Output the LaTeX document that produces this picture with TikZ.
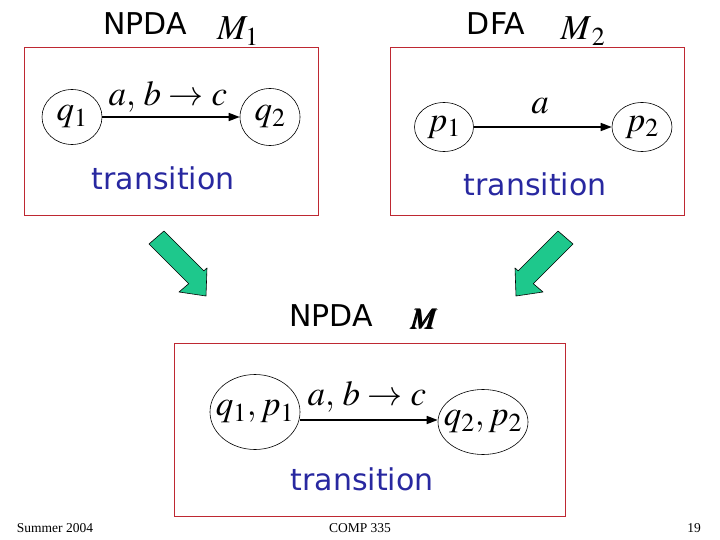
\documentclass[tikz,border=0pt]{standalone}
\usepackage{fix-cm}
\usepackage{mathptmx}
\usepackage{bm}
\usepackage{fontspec}
\setmainfont{Liberation Serif}
\newfontfamily\slidefont{DejaVu Sans}
\usetikzlibrary{shapes.geometric,arrows.meta}

\definecolor{boxred}{RGB}{190,40,50}
\definecolor{trblue}{RGB}{40,40,160}
\definecolor{arrgreen}{RGB}{30,200,140}

\tikzset{
  frame/.style={draw=boxred,line width=1pt},
  state/.style={draw,ellipse,line width=0.6pt,inner sep=0pt},
  stlabel/.style={font=\fontsize{35}{35}\selectfont},
  trans/.style={-{Triangle[length=11pt,width=8pt]},line width=1.6pt},
  title/.style={font=\slidefont\fontsize{30}{30}\selectfont,anchor=base},
  note/.style={font=\slidefont\fontsize{30}{30}\selectfont,text=trblue,anchor=base},
  foot/.style={font=\fontsize{13.5}{14}\selectfont},
  bigarrow/.style={fill=arrgreen,draw=black,line width=0.6pt,line join=round},
}

\begin{document}
\begin{tikzpicture}[x=1pt,y=-1pt]
			\useasboundingbox (0,0) rectangle (720,540);
			% NPDA M_1
			\draw[frame] (24,48) rectangle (318,216);
			\node[title] (npdaA) at (145,35) {NPDA};
			\node[stlabel,anchor=base] (mA) at (238,40) {$M_1$};
			\node[state,minimum width=60,minimum height=55] (q1) at (72,117) {};
			\node[state,minimum width=60,minimum height=57] (q2) at (270,117) {};
			\node[stlabel] at (q1) {$q_1$};
			\node[stlabel] at (q2) {$q_2$};
			\draw[trans] (q1)--(q2);
			\node[stlabel,anchor=base] (labA) at (168,106) {$a,\,b\rightarrow c$};
			\node[note] (trA) at (163,190) {transition};
			% DFA M_2
			\draw[frame] (390,48) rectangle (684,216);
			\node[title] (dfa) at (496,35) {DFA};
			\node[stlabel,anchor=base] (mB) at (583,40) {$M_{\,2}$};
			\node[state,minimum width=59,minimum height=49] (p1) at (444,127) {};
			\node[state,minimum width=60,minimum height=49] (p2) at (642,127) {};
			\node[stlabel] at (p1) {$p_1$};
			\node[stlabel] at (p2) {$p_2$};
			\draw[trans] (p1)--(p2);
			\node[stlabel,anchor=base] (labB) at (540,114) {$a$};
			\node[note] (trB) at (535,196) {transition};
			% the two green arrows
			\draw[bigarrow] (164,231)--(203.8,270.8)--(207,268)--(206,296)--(179,292)--(188.7,283.7)--(149,244)--cycle;
			\draw[bigarrow] (558,231)--(518.2,270.8)--(515,268)--(516,296)--(543,292)--(533.3,283.7)--(573,244)--cycle;
			% NPDA M
			\draw[frame] (174,343) rectangle (565,516);
			\node[title] (npdaC) at (331,326) {NPDA};
			\node[stlabel,anchor=base,font=\fontsize{30}{30}\selectfont] (mC) at (424,329) {$\bm{M}$};
			\node[state,minimum width=90,minimum height=75] (q1p1) at (255,412) {};
			\node[state,minimum width=90,minimum height=65] (q2p2) at (483,422) {};
			\node[stlabel] at (q1p1) {$q_1,p_1$};
			\node[stlabel] at (q2p2) {$q_2,p_2$};
			\draw[trans] ([yshift=-8pt]q1p1.east)--([yshift=2pt]q2p2.west);
			\node[stlabel,anchor=base] (labC) at (367,405) {$a,\,b\rightarrow c$};
			\node[note] (trC) at (362,490) {transition};
			% footer
			\node[foot] (date) at (55,528) {Summer 2004};
			\node[foot] (course) at (360,528) {COMP 335};
			\node[foot] (page) at (694,528) {19};
		\end{tikzpicture}
\end{document}
